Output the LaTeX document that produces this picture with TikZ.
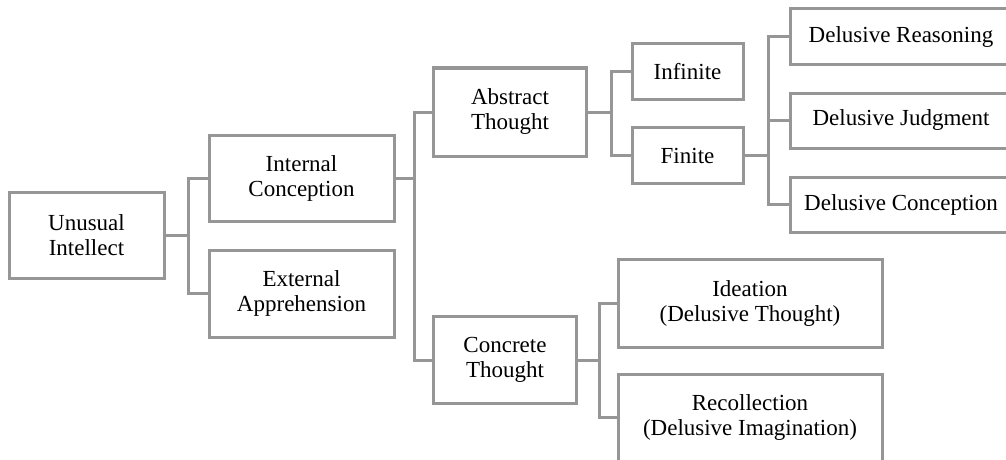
\documentclass[tikz,border=0pt]{standalone}
\usepackage{fontspec}
\setmainfont{Liberation Serif}
\usepackage{xcolor}
\usepackage{tikz}
\usetikzlibrary{positioning, calc}
\definecolor{linegray}{RGB}{150,150,150}
\tikzstyle{concept} = [rectangle, draw=linegray, line width=3pt, fill=white, align=center, inner sep=0pt, font=\rmfamily\fontsize{23}{25}\selectfont]
\tikzstyle{link} = [draw=linegray, line width=3pt]

\begin{document}
\begin{tikzpicture}[x=1pt, y=-1pt]
\useasboundingbox (0,0) rectangle (1006,460);

% ===== LEVEL 1 =====
\node (unusual) [concept, minimum width=155, minimum height=86] at (86.5, 235) {Unusual\\Intellect};

% ===== LEVEL 2 =====
\node (internal) [concept, minimum width=185, minimum height=86] at (301.5, 178) {Internal\\Conception};
\node (external) [concept, minimum width=185, minimum height=87] at (301.5, 293.5) {External\\Apprehension};

% ===== LEVEL 3 =====
\node (abstract) [concept, minimum width=153, minimum height=88] at (510, 112) {Abstract\\Thought};
\node (concrete) [concept, minimum width=143, minimum height=87] at (505, 360) {Concrete\\Thought};

% ===== LEVEL 4 =====
\node (infinite) [concept, minimum width=111, minimum height=55] at (687.5, 71.5) {Infinite};
\node (finite) [concept, minimum width=111, minimum height=56] at (687.5, 155.5) {Finite};
\node (ideation) [concept, minimum width=264, minimum height=88] at (750, 303) {Ideation\\(Delusive Thought)};
\node (recollection) [concept, minimum width=264, minimum height=87] at (750, 417.5) {Recollection\\(Delusive Imagination)};

% ===== LEVEL 5 (cut off at the right edge) =====
\node (reasoning) [concept, minimum width=222, minimum height=56] at (901, 37) {Delusive Reasoning};
\node (judgment) [concept, minimum width=222, minimum height=55] at (901, 120.5) {Delusive Judgment};
\node (conception) [concept, minimum width=222, minimum height=55] at (901, 204.5) {Delusive Conception};

% ===== ARROWS =====
% Unusual Intellect
\draw [link] (unusual.east) -- ++(23,0) |- (internal.west);
\draw [link] (unusual.east) -- ++(23,0) |- (external.west);

% Internal Conception
\draw [link] (internal.east) -- ++(19,0) |- (abstract.west);
\draw [link] (internal.east) -- ++(19,0) |- (concrete.west);

% Abstract Thought
\draw [link] (abstract.east) -- ++(23.5,0) |- (infinite.west);
\draw [link] (abstract.east) -- ++(23.5,0) |- (finite.west);

% Finite
\draw [link] (finite.east) -- ++(24,0) |- (reasoning.west);
\draw [link] (finite.east) -- ++(24,0) |- (judgment.west);
\draw [link] (finite.east) -- ++(24,0) |- (conception.west);

% Concrete Thought
\draw [link] (concrete.east) -- ++(21.5,0) |- (ideation.west);
\draw [link] (concrete.east) -- ++(21.5,0) |- (recollection.west);

\end{tikzpicture}
\end{document}
